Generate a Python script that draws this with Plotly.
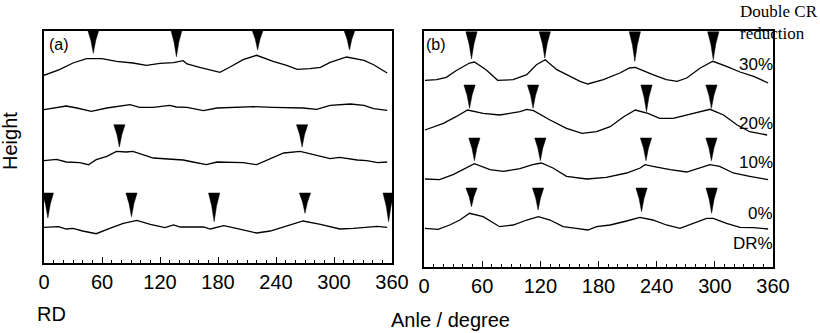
import plotly.graph_objects as go

# ---------------- data (angle in degrees, height in arbitrary units) ----------------
# Panel (a)
a1_deg = [0, 16, 30, 44, 60, 75, 92, 106, 120, 134, 144, 148, 161, 175, 182, 192, 206, 220, 237, 251, 262, 275, 286, 296, 313, 331, 341, 355]
a1_h = [187.7, 193.3, 200, 204.3, 204.3, 201.7, 200, 197.7, 199.7, 200.3, 202.3, 199, 195.7, 192.3, 190.7, 195.7, 203.3, 207.7, 201.7, 197.7, 193.7, 194.3, 195.7, 200.7, 206, 202.7, 198.3, 190]

a2_deg = [0, 9, 23, 34, 49, 65, 78, 89, 99, 113, 130, 137, 148, 165, 179, 196, 217, 237, 251, 268, 282, 296, 317, 331, 341, 355]
a2_h = [153.3, 155, 157, 155, 151.7, 155, 157, 158.3, 155.7, 155.7, 157.7, 156, 155.7, 152.3, 155, 155.7, 156.3, 155.7, 155.7, 155, 153.7, 157.7, 159, 157.7, 154.3, 152.7]

a3_deg = [0, 13, 23, 37, 46, 54, 65, 75, 85, 92, 113, 127, 144, 154, 168, 179, 192, 206, 220, 234, 248, 265, 279, 296, 306, 324, 334, 345, 355]
a3_h = [102.3, 103.7, 101, 100.3, 98.3, 103.3, 106.7, 111.7, 111, 111.7, 105, 104.3, 103, 101, 98.3, 101, 101, 100.3, 98.3, 104.3, 110, 111.7, 108.3, 104.3, 105.7, 103, 102.3, 100.3, 101]

a4_deg = [0, 9, 15, 23, 30, 40, 54, 68, 82, 96, 110, 125, 134, 141, 165, 172, 186, 199, 220, 234, 251, 268, 286, 306, 320, 334, 345, 355]
a4_h = [35.7, 35.7, 36.3, 34, 34.7, 32, 29.3, 34.7, 39.7, 42.7, 38.7, 35.3, 38, 36, 36, 34, 37.3, 34.7, 30, 32, 37.3, 42, 38.7, 34, 34.7, 35.7, 36.7, 35.7]

# arrows of panel (a): angle, tip height, top height of the row
a_arrow_deg = [[51, 137, 221, 316], [], [78, 267], [4, 90.5, 176, 270, 356.5]]
a_arrow_tip = [[209.7, 206.3, 213, 213], [], [116, 116], [45, 46.3, 41.3, 49.7, 41.3]]
a_arrow_top = [233, None, 138.3, 70]

# Panel (b)
b1_deg = [1, 13, 23, 33, 47, 52, 64, 76, 92, 106, 116, 125, 137, 150, 161, 169, 185, 202, 212, 218, 221, 236, 250, 261, 271, 285, 298, 312, 326, 340, 355]
b1_h = [186.7, 187.3, 189.7, 196.3, 204, 205, 197.3, 186.7, 187.3, 192.3, 202.3, 207.3, 197.3, 190.7, 185.7, 183, 187.3, 194, 199, 199.7, 198.3, 192.3, 187.3, 185.7, 189, 199, 205.7, 200.7, 195, 190.7, 184]

b2_deg = [1, 20, 33, 45, 61, 78, 99, 106, 113, 130, 147, 163, 178, 192, 206, 218, 231, 243, 257, 271, 285, 295, 309, 323, 336, 354]
b2_h = [137, 143.7, 150.3, 157, 153.7, 152, 155.3, 157.7, 156.3, 147, 138.7, 133.7, 135.3, 140.3, 150.3, 157, 153.7, 148.7, 148.7, 152, 155.3, 157.7, 152, 142, 135.3, 132]

b3_deg = [1, 16, 30, 40, 52, 68, 82, 99, 112, 121, 133, 147, 168, 188, 209, 223, 228, 236, 254, 271, 281, 295, 305, 319, 336, 355]
b3_h = [88, 87.3, 92.3, 97.3, 103.3, 97.3, 95.7, 98.3, 102.3, 104, 99, 90.7, 88, 89.7, 94, 99, 102.3, 100.7, 97.3, 95, 98.3, 102.3, 100.7, 94, 90.7, 87.3]

b4_deg = [1, 14.5, 26.5, 37, 47, 61, 78, 92, 106, 118, 130, 143.5, 157, 169, 178, 192, 209, 222.7, 236, 250, 264, 278, 291.5, 298.4, 312, 326, 340, 355]
b4_h = [38.7, 37.7, 42, 47, 53.7, 50.3, 40.3, 42, 47, 50.3, 47, 40.3, 38.7, 37, 40.3, 42, 46, 49.7, 47, 42, 38.7, 43.7, 48.7, 48.7, 43.7, 39.7, 39.3, 38]

b_arrow_deg = [[49, 124.6, 217.5, 298.4], [47, 112.5, 229.5, 296.5], [52, 120, 229, 296.5], [49, 117.7, 224.4, 296.7]]
b_arrow_tip = [[208, 209, 205.7, 207.3], [158.7, 158.7, 155.3, 158.7], [106.3, 106.3, 106.3, 106.3], [60.3, 57, 55.3, 53.7]]
b_arrow_top = [235.3, 182, 129, 79]

b_labels = ["30%", "20%", "10%", "0%", "DR%"]
b_label_h = [203, 144, 105, 54, 24]

x_ticks = [0, 60, 120, 180, 240, 300, 360]

# ---------------- figure ----------------
fig = go.Figure()
line_style = dict(color="black", width=1.3)

for xs, ys in [(a1_deg, a1_h), (a2_deg, a2_h), (a3_deg, a3_h), (a4_deg, a4_h)]:
    fig.add_trace(go.Scatter(x=xs, y=ys, mode="lines", line=line_style,
                             xaxis="x", yaxis="y", showlegend=False, hoverinfo="skip"))
for xs, ys in [(b1_deg, b1_h), (b2_deg, b2_h), (b3_deg, b3_h), (b4_deg, b4_h)]:
    fig.add_trace(go.Scatter(x=xs, y=ys, mode="lines", line=line_style,
                             xaxis="x2", yaxis="y2", showlegend=False, hoverinfo="skip"))


def arrow_polys(deg_rows, tip_rows, tops, half_w=5.8, neck_w=2.5):
    px, py = [], []
    for degs, tips, top in zip(deg_rows, tip_rows, tops):
        for d, t in zip(degs, tips):
            neck = top - 0.45 * (top - t)
            px += [d - half_w, d + half_w, d + neck_w, d, d - neck_w, d - half_w, None]
            py += [top, top, neck, t, neck, top, None]
    return px, py


ax_, ay_ = arrow_polys(a_arrow_deg, a_arrow_tip, a_arrow_top)
bx_, by_ = arrow_polys(b_arrow_deg, b_arrow_tip, b_arrow_top)
fig.add_trace(go.Scatter(x=ax_, y=ay_, mode="lines", fill="toself", fillcolor="black",
                         line=dict(color="black", width=0.5), xaxis="x", yaxis="y",
                         showlegend=False, hoverinfo="skip"))
fig.add_trace(go.Scatter(x=bx_, y=by_, mode="lines", fill="toself", fillcolor="black",
                         line=dict(color="black", width=0.5), xaxis="x2", yaxis="y2",
                         showlegend=False, hoverinfo="skip"))

W, H = 820, 333
ml, mr, mt, mb = 44, 47, 31, 66
pw = W - ml - mr
ph = H - mt - mb


def px2paper(x, y):
    return (x - ml) / pw, (H - mb - y) / ph


SANS = "Arial, Liberation Sans, sans-serif"
xcommon = dict(range=[0, 360], tickvals=x_ticks, ticktext=[str(v) for v in x_ticks],
               ticks="inside", ticklen=6, tickwidth=1, tickcolor="black",
               minor=dict(dtick=10, ticks="inside", ticklen=3, tickwidth=1, tickcolor="black"),
               showline=True, linecolor="black", linewidth=1.5, mirror=True,
               showgrid=False, zeroline=False,
               tickfont=dict(family=SANS, size=20, color="black"))
ycommon = dict(showticklabels=False, ticks="", showline=True, linecolor="black",
               linewidth=1.5, mirror=True, showgrid=False, zeroline=False)

fig.update_layout(
    width=W, height=H, margin=dict(l=ml, r=mr, t=mt, b=mb),
    paper_bgcolor="white", plot_bgcolor="white",
    xaxis=dict(domain=[0, 348 / pw], anchor="y", **xcommon),
    xaxis2=dict(domain=[380 / pw, 1], anchor="y2", **xcommon),
    yaxis=dict(domain=[4 / ph, 1], range=[0, 232], anchor="x", **ycommon),
    yaxis2=dict(domain=[0, 1], range=[0, 236], anchor="x2", **ycommon),
)

ann_font = dict(family=SANS, size=20, color="black")
hx, hy = px2paper(10, 141)
rx, ry = px2paper(51, 313.5)
lx, ly = px2paper(450, 320)
dx, dy = px2paper(738, 0)
annotations = [
    dict(text="(a)", x=3, y=219, xref="x", yref="y", xanchor="left", yanchor="middle",
         showarrow=False, font=dict(family=SANS, size=16, color="black")),
    dict(text="(b)", x=0.5, y=223, xref="x2", yref="y2", xanchor="left", yanchor="middle",
         showarrow=False, font=dict(family=SANS, size=16, color="black")),
    dict(text="Height", x=hx, y=hy, xref="paper", yref="paper", textangle=-90,
         xanchor="center", yanchor="middle", showarrow=False, font=ann_font),
    dict(text="RD", x=rx, y=ry, xref="paper", yref="paper", xanchor="center", yanchor="middle",
         showarrow=False, font=ann_font),
    dict(text="Anle / degree", x=lx, y=ly, xref="paper", yref="paper",
         xanchor="center", yanchor="middle", showarrow=False, font=ann_font),
    dict(text="Double CR<br>reduction", x=dx, y=dy, xref="paper", yref="paper",
         xanchor="left", yanchor="top", align="left", showarrow=False,
         font=dict(family="Liberation Serif, Times New Roman, serif", size=17, color="black")),
]
for lab, h in zip(b_labels, b_label_h):
    annotations.append(dict(text=lab, x=360, y=h, xref="x2", yref="y2", xanchor="right",
                            yanchor="middle", showarrow=False, xshift=2,
                            font=dict(family=SANS, size=17, color="black")))
fig.update_layout(annotations=annotations)

fig.write_html("out.html", config={"displayModeBar": False},
               post_script="document.body.style.margin='0';")
